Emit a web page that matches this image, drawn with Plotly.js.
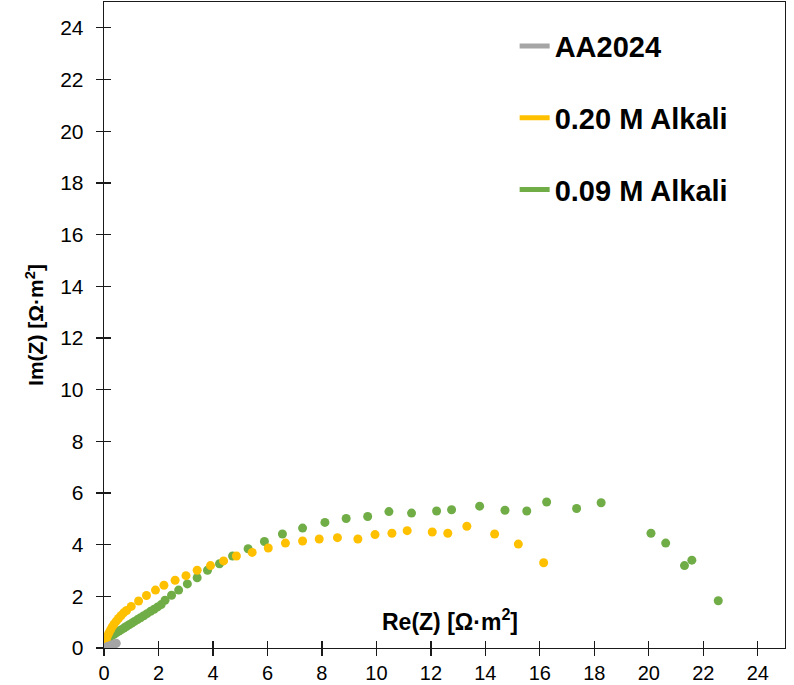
<!DOCTYPE html>
<html>
<head>
<meta charset="utf-8">
<script src="https://cdn.plot.ly/plotly-3.0.1.min.js"></script>
<style>html,body{margin:0;padding:0;background:#fff;}#chart{width:794px;height:685px;}</style>
</head>
<body>
<div id="chart"></div>
<script>
// Series names
const seriesNames = ["AA2024", "0.20 M Alkali", "0.09 M Alkali"];

// AA2024
const reAA = [0.02,0.06,0.10,0.15,0.20,0.25,0.30,0.35,0.40,0.45];
const imAA = [0.00,0.02,0.04,0.06,0.08,0.10,0.12,0.14,0.16,0.18];

// 0.20 M Alkali
const re020 = [0.02,0.05,0.09,0.13,0.18,0.24,0.30,0.37,0.45,0.53,0.62,0.72,0.83,1.00,1.27,1.56,1.89,2.20,2.61,3.01,3.42,3.91,4.39,4.86,5.44,6.03,6.66,7.29,7.90,8.57,9.32,9.95,10.57,11.13,12.05,12.62,13.32,14.34,15.21,16.14];
const im020 = [0.10,0.22,0.35,0.47,0.58,0.70,0.82,0.93,1.04,1.14,1.25,1.36,1.45,1.61,1.82,2.03,2.24,2.43,2.62,2.80,3.01,3.19,3.37,3.56,3.70,3.87,4.06,4.14,4.22,4.27,4.22,4.39,4.44,4.54,4.49,4.44,4.71,4.41,4.02,3.30];

// 0.09 M Alkali
const re009 = [0.04,0.09,0.15,0.21,0.30,0.38,0.46,0.55,0.64,0.73,0.82,0.92,1.02,1.12,1.23,1.34,1.46,1.58,1.71,1.84,1.97,2.10,2.24,2.48,2.74,3.06,3.42,3.80,4.24,4.72,5.29,5.89,6.55,7.29,8.11,8.89,9.68,10.46,11.29,12.21,12.76,13.79,14.72,15.52,16.25,17.35,18.25,20.08,20.62,21.31,21.58,22.55];
const im009 = [0.09,0.19,0.31,0.43,0.49,0.54,0.60,0.66,0.71,0.77,0.83,0.90,0.96,1.03,1.10,1.17,1.25,1.33,1.42,1.50,1.59,1.68,1.85,2.04,2.24,2.48,2.72,3.01,3.26,3.56,3.84,4.12,4.41,4.64,4.86,5.01,5.09,5.28,5.22,5.30,5.35,5.49,5.33,5.30,5.65,5.40,5.62,4.44,4.06,3.19,3.40,1.83];

// Axis ticks
const tickVals = [0,2,4,6,8,10,12,14,16,18,20,22,24];
const tickText = tickVals.map(String);

const colors = ["#A5A5A5", "#FFC000", "#70AD47"];
const FONT = "Liberation Sans, Arial, sans-serif";

const traces = [
  {x: re009, y: im009, mode: "markers", type: "scatter", marker: {color: colors[2], size: 9}, showlegend: false, hoverinfo: "skip"},
  {x: re020, y: im020, mode: "markers", type: "scatter", marker: {color: colors[1], size: 9}, showlegend: false, hoverinfo: "skip"},
  {x: reAA, y: imAA, mode: "markers", type: "scatter", marker: {color: colors[0], size: 9}, showlegend: false, hoverinfo: "skip", xaxis: "x2", yaxis: "y2"},
  // legend entries (line samples)
  {x: [null], y: [null], mode: "lines", type: "scatter", name: "<b>" + seriesNames[0] + "</b>", line: {color: colors[0], width: 5}, legendgroup: "a", legendrank: 1},
  {x: [null], y: [null], mode: "lines", type: "scatter", name: "<b>" + seriesNames[1] + "</b>", line: {color: colors[1], width: 5}, legendgroup: "b", legendrank: 2},
  {x: [null], y: [null], mode: "lines", type: "scatter", name: "<b>" + seriesNames[2] + "</b>", line: {color: colors[2], width: 5}, legendgroup: "c", legendrank: 3}
];

const axisCommon = {
  range: [0, 25], tickmode: "array", tickvals: tickVals, ticktext: tickText,
  showgrid: false, zeroline: false, showline: true, linecolor: "#1a1a1a", linewidth: 1.3,
  ticks: "outside", ticklen: 7, tickwidth: 1.3, tickcolor: "#1a1a1a",
  tickfont: {family: FONT, size: 21, color: "#000"}, mirror: true, fixedrange: true
};

const layout = {
  width: 794, height: 685,
  margin: {l: 104, r: 9, t: 2, b: 37},
  paper_bgcolor: "#fff", plot_bgcolor: "#fff",
  font: {family: FONT, color: "#000"},
  xaxis: Object.assign({}, axisCommon, {title: {text: ""}, ticklabelstandoff: 0, tickfont: {family: FONT, size: 20, color: "#000"}}),
  yaxis: Object.assign({}, axisCommon, {
    ticklabelstandoff: 8,
    title: {text: "<b>Im(Z) [Ω·m<sup>2</sup>]</b>", font: {family: FONT, size: 21, color: "#000"}, standoff: 10}
  }),
  xaxis2: {overlaying: "x", anchor: "y2", side: "bottom", range: [0, 25], tickmode: "array", tickvals: tickVals,
    showticklabels: false, ticks: "inside", ticklen: 7, tickwidth: 1.3, tickcolor: "#1a1a1a",
    showgrid: false, zeroline: false, showline: false, fixedrange: true},
  yaxis2: {overlaying: "y", anchor: "x2", side: "left", range: [0, 25], tickmode: "array", tickvals: tickVals,
    showticklabels: false, ticks: "inside", ticklen: 7, tickwidth: 1.3, tickcolor: "#1a1a1a",
    showgrid: false, zeroline: false, showline: false, fixedrange: true},
  legend: {x: 0.603, y: 0.971, xanchor: "left", yanchor: "top", traceorder: "grouped", tracegroupgap: 31,
    font: {family: FONT, size: 29, color: "#000"}, bgcolor: "rgba(0,0,0,0)"},
  annotations: [{
    xref: "paper", yref: "paper", x: 0.508, y: 0.043, xanchor: "center", yanchor: "middle",
    text: "<b>Re(Z) [Ω·m<sup>2</sup>]</b>", showarrow: false, font: {family: FONT, size: 23, color: "#000"}
  }],
  showlegend: true
};

Plotly.newPlot("chart", traces, layout, {displayModeBar: false, staticPlot: true});
</script>
</body>
</html>
